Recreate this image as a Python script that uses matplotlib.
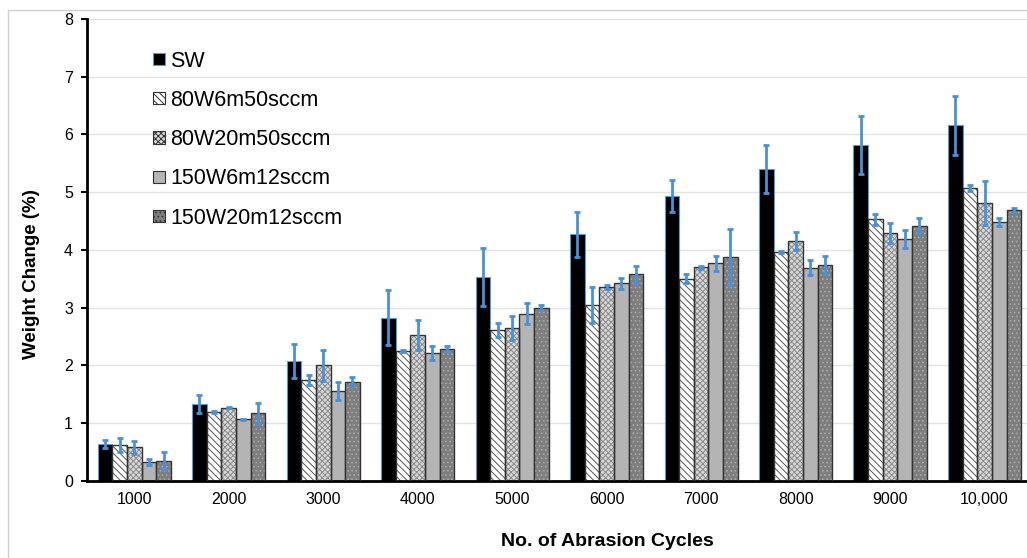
import numpy as np
import matplotlib
matplotlib.use("Agg")
import matplotlib.pyplot as plt
from matplotlib.patches import Rectangle, Patch

plt.rcParams['font.family'] = ['Liberation Sans', 'DejaVu Sans']
plt.rcParams['hatch.linewidth'] = 0.7

cycles = ['1000', '2000', '3000', '4000', '5000', '6000', '7000', '8000', '9000', '10,000']
series = ['SW', '80W6m50sccm', '80W20m50sccm', '150W6m12sccm', '150W20m12sccm']

sw       = [0.64, 1.33, 2.08, 2.83, 3.53, 4.27, 4.94, 5.40, 5.82, 6.16]
w80_6    = [0.63, 1.19, 1.75, 2.25, 2.61, 3.05, 3.50, 3.96, 4.53, 5.07]
w80_20   = [0.58, 1.27, 2.00, 2.53, 2.65, 3.36, 3.70, 4.16, 4.29, 4.81]
w150_6   = [0.33, 1.07, 1.56, 2.21, 2.90, 3.42, 3.77, 3.69, 4.19, 4.49]
w150_20  = [0.35, 1.17, 1.72, 2.29, 3.00, 3.58, 3.88, 3.74, 4.42, 4.69]

sw_err      = [0.07, 0.16, 0.29, 0.47, 0.50, 0.39, 0.28, 0.42, 0.50, 0.51]
w80_6_err   = [0.12, 0.02, 0.09, 0.01, 0.12, 0.31, 0.08, 0.02, 0.09, 0.05]
w80_20_err  = [0.12, 0.01, 0.26, 0.26, 0.21, 0.04, 0.03, 0.16, 0.17, 0.38]
w150_6_err  = [0.05, 0.01, 0.15, 0.12, 0.18, 0.10, 0.13, 0.13, 0.16, 0.07]
w150_20_err = [0.15, 0.18, 0.08, 0.04, 0.04, 0.15, 0.48, 0.16, 0.13, 0.04]

values = [sw, w80_6, w80_20, w150_6, w150_20]
errors = [sw_err, w80_6_err, w80_20_err, w150_6_err, w150_20_err]

# face, hatch, hatch colour
styles = [
    ('black',   None,          None),
    ('white',   '\\\\\\\\\\',  '#555555'),
    ('#d8d8d8', 'xxxxxx',      '#8a8a8a'),
    ('#b4b4b4', None,          None),
    ('#7e7e7e', '....',        '#a8a8a8'),
]

fig = plt.figure(figsize=(10.27, 5.58), dpi=100)
ax = fig.add_axes([0.0847, 0.138, 0.92, 0.828])

x = np.arange(len(cycles))
w = 0.155
for k, (vals, errs, (fc, hatch, hc)) in enumerate(zip(values, errors, styles)):
    pos = x + (k - 2) * w
    if hatch:
        ax.bar(pos, vals, w, color=fc, hatch=hatch, edgecolor=hc, linewidth=0, zorder=2)
        ax.bar(pos, vals, w, fill=False, edgecolor='#333333', linewidth=1.0, zorder=3)
    elif k == 0:
        ax.bar(pos, vals, w, color=fc, edgecolor='#5b9bd5', linewidth=0.8, zorder=2)
    else:
        ax.bar(pos, vals, w, color=fc, edgecolor='#333333', linewidth=1.0, zorder=2)
    ax.errorbar(pos, vals, yerr=errs, fmt='none', ecolor='#4a90d9', elinewidth=2,
                capsize=2.5, capthick=2, zorder=4)

ax.set_xlim(-0.5, 9.5)
ax.set_ylim(0, 8)
ax.set_xticks(x)
ax.set_xticklabels(cycles, fontsize=11.5)
ax.set_yticks(range(0, 9))
ax.tick_params(axis='y', labelsize=11.5, length=4, width=1.5, color='black', pad=6)
ax.tick_params(axis='x', length=0, pad=8)
ax.yaxis.grid(True, color='#e3e3e3', linewidth=1, zorder=0)
ax.set_axisbelow(True)
for s in ['top', 'right']:
    ax.spines[s].set_visible(False)
ax.spines['left'].set_linewidth(2)
ax.spines['bottom'].set_linewidth(2)

ax.set_ylabel('Weight Change (%)', fontsize=13.5, fontweight='bold')
ax.yaxis.set_label_coords(-0.050, 0.448)
ax.set_xlabel('No. of Abrasion Cycles', fontsize=14, fontweight='bold')
ax.xaxis.set_label_coords(0.551, -0.113)

handles = []
for fc, hatch, hc in styles:
    if hatch:
        handles.append(Patch(facecolor=fc, hatch=hatch, edgecolor='#333333', linewidth=0.8))
    else:
        handles.append(Patch(facecolor=fc, edgecolor='#333333' if fc != 'black' else '#5b9bd5', linewidth=0.8))
ax.legend(handles, series, loc='upper left', bbox_to_anchor=(0.058, 0.955), frameon=False,
          fontsize=15.5, handlelength=0.56, handleheight=0.5, handletextpad=0.25,
          labelspacing=0.85, borderpad=0)

fig.patches.append(Rectangle((0.0078, -0.1), 1.2, 1.082, transform=fig.transFigure,
                             fill=False, edgecolor='#d0d0d0', linewidth=1, zorder=0))

fig.savefig('out.png', dpi=100)
